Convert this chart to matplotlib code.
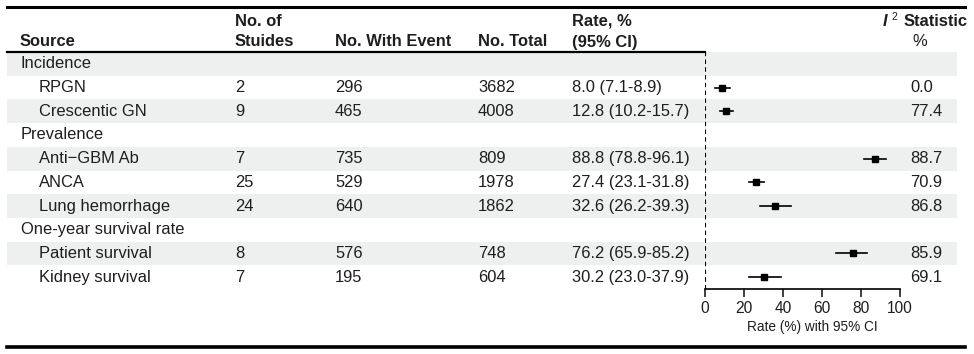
import matplotlib
matplotlib.use("Agg")
from matplotlib import pyplot as plt
from matplotlib import transforms
from matplotlib.lines import Line2D
from matplotlib.patches import Rectangle

# data
groups = ["Incidence", "Prevalence", "One-year survival rate"]
outcomes = ["RPGN", "Crescentic GN", "Anti\u2212GBM Ab", "ANCA",
            "Lung hemorrhage", "Patient survival", "Kidney survival"]
outcome_group = [0, 0, 1, 1, 1, 2, 2]
n_studies = [2, 9, 7, 25, 24, 8, 7]
n_event = [296, 465, 735, 529, 640, 576, 195]
n_total = [3682, 4008, 809, 1978, 1862, 748, 604]
rate = [8.0, 12.8, 88.8, 27.4, 32.6, 76.2, 30.2]
ci_lo = [7.1, 10.2, 78.8, 23.1, 26.2, 65.9, 23.0]
ci_hi = [8.9, 15.7, 96.1, 31.8, 39.3, 85.2, 37.9]
i2 = [0.0, 77.4, 88.7, 70.9, 86.8, 85.9, 69.1]

# positions of the marks as drawn in the forest panel
plot_est = [8.7, 10.8, 87.0, 26.2, 35.9, 75.9, 30.3]
plot_lo = [5.1, 7.7, 81.6, 22.7, 28.2, 67.4, 22.6]
plot_hi = [12.8, 14.2, 92.7, 30.1, 43.9, 82.9, 39.0]

# build table rows: group headers followed by their outcomes
rows = []
for g, name in enumerate(groups):
    rows.append(("group", name, None))
    for k, og in enumerate(outcome_group):
        if og == g:
            rows.append(("item", outcomes[k], k))

W, H = 974, 354
plt.rcParams["font.family"] = ["Liberation Sans", "DejaVu Sans"]
fs = 11.9
tc = "#1e1e1e"

fig = plt.figure(figsize=(W / 100, H / 100), dpi=100)

def fx(px):
    return px / W

def fy(py):
    return 1 - py / H

# forest axes: x 0..100 -> px 705..900, rows from y=52 to y=289
ax = fig.add_axes([fx(705), fy(289), fx(195), 237 / H])
ax.set_facecolor("none")
ax.set_xlim(0, 100)
ax.set_ylim(len(rows), 0)
for s in ["top", "right", "left"]:
    ax.spines[s].set_visible(False)
ax.spines["bottom"].set_linewidth(1.2)
ax.set_yticks([])
ax.set_xticks([0, 20, 40, 60, 80, 100])
ax.tick_params(axis="x", length=6, width=1.2, pad=2.5, labelsize=11.2, colors=tc)
ax.set_xlabel("Rate (%) with 95% CI", fontsize=9.8, color=tc)
ax.xaxis.set_label_coords((812 - 705) / 195, (289 - 320) / 237)
ax.axvline(0, color="k", lw=0.8, ls=(0, (4, 3)))

trans = transforms.blended_transform_factory(fig.transFigure, ax.transData)

for i, (kind, name, k) in enumerate(rows):
    y = i + 0.5
    if i % 2 == 0:
        ax.add_patch(Rectangle((fx(7), i), fx(957) - fx(7), 1, transform=trans,
                               facecolor="#eef0f0", edgecolor="none",
                               clip_on=False, zorder=0))
    if kind == "group":
        ax.text(fx(21), y, name, transform=trans, fontsize=fs, color=tc, va="center")
        continue
    ax.text(fx(39), y, name, transform=trans, fontsize=fs, color=tc, va="center")
    ax.text(fx(235), y, str(n_studies[k]), transform=trans, fontsize=fs, color=tc, va="center")
    ax.text(fx(335), y, str(n_event[k]), transform=trans, fontsize=fs, color=tc, va="center")
    ax.text(fx(478), y, str(n_total[k]), transform=trans, fontsize=fs, color=tc, va="center")
    ax.text(fx(572), y, f"{rate[k]:.1f} ({ci_lo[k]:.1f}-{ci_hi[k]:.1f})",
            transform=trans, fontsize=fs, color=tc, va="center")
    ax.text(fx(910), y, f"{i2[k]:.1f}", transform=trans, fontsize=fs, color=tc, va="center")
    ax.plot([plot_lo[k], plot_hi[k]], [y, y], color="k", lw=1.2, zorder=3, clip_on=False)
    ax.plot(plot_est[k], y, marker="s", ms=4.6, color="k", zorder=4, clip_on=False)

# header
hdr = dict(fontsize=fs, fontweight="bold", color=tc, va="center")
fig.text(fx(20), fy(42), "Source", **hdr)
fig.text(fx(235), fy(21), "No. of", **hdr)
fig.text(fx(235), fy(42), "Stuides", **hdr)
fig.text(fx(335), fy(42), "No. With Event", **hdr)
fig.text(fx(478), fy(42), "No. Total", **hdr)
fig.text(fx(572), fy(21), "Rate, %", **hdr)
fig.text(fx(572), fy(42), "(95% CI)", **hdr)
fig.text(fx(968), fy(21), "Statistic", ha="right", **hdr)
fig.text(fx(887), fy(21), "I", ha="right", fontstyle="italic", **hdr)
fig.text(fx(891), fy(17), "2", fontsize=7.5, color=tc, va="center")
fig.text(fx(920), fy(42), "%", fontsize=fs, color=tc, va="center", ha="center")

# rules
fig.add_artist(Line2D([fx(7), fx(965)], [fy(7), fy(7)], lw=2.2, color="k"))
fig.add_artist(Line2D([fx(7), fx(705)], [fy(52), fy(52)], lw=1.6, color="k"))
fig.add_artist(Line2D([fx(7), fx(965)], [fy(347), fy(347)], lw=2.6, color="k"))

fig.savefig("out.png", dpi=100)
